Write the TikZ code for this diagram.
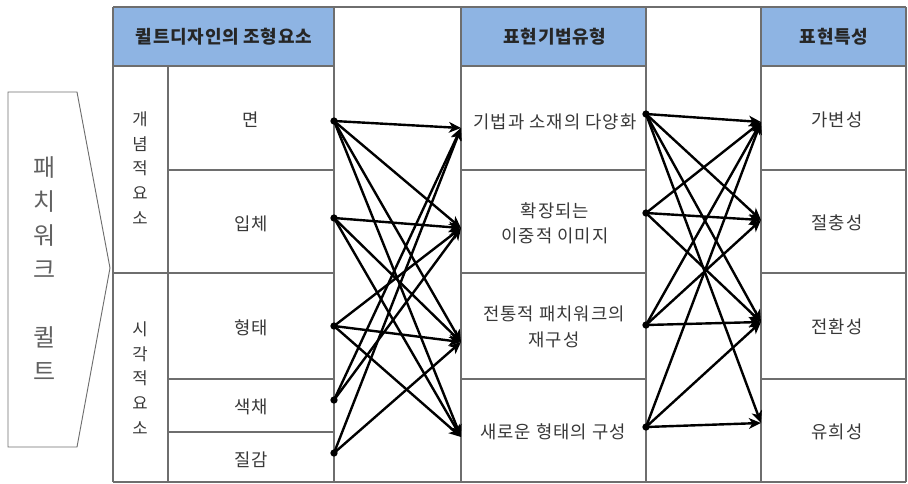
\documentclass[tikz,border=0pt]{standalone}
\usepackage{fontspec}
\newfontfamily\kr{Noto Sans CJK KR}
\newfontfamily\krw{Noto Sans CJK KR}[LetterSpace=6]
\newfontfamily\krh{Noto Sans CJK KR}[LetterSpace=4]
\usetikzlibrary{arrows.meta}
\definecolor{hdr}{HTML}{8EB4E3}
\definecolor{gridc}{HTML}{6E6E6E}
\begin{document}
\begin{tikzpicture}[x=0.75pt,y=-0.75pt,
  gridline/.style={draw=gridc, line width=0.8pt},
  hdrtext/.style={font=\krh\bfseries\fontsize{13.5}{15}\selectfont, text=black!85, inner sep=0pt},
  cell/.style={font=\krw\fontsize{13.3}{15}\selectfont, text=black!78, align=center, inner sep=0pt},
  vert/.style={font=\kr\fontsize{12.5}{18.5}\selectfont, text=black!78, align=center, inner sep=0pt},
  big/.style={font=\kr\fontsize{18}{25.5}\selectfont, text=black!62, align=center, inner sep=0pt},
  dot/.style={circle, fill=black, inner sep=0pt, minimum size=5.5pt},
  link/.style={line width=1.8pt, -{Stealth[length=9pt,width=8pt,inset=2.5pt]}},
]
\useasboundingbox (0,0) rectangle (908,483);
% header fills
\fill[hdr] (113,7) rectangle (334,66);
\fill[hdr] (461,7) rectangle (646,66);
\fill[hdr] (761,7) rectangle (906,66);
% grid
\draw[gridline] (113,7) -- (906,7);
\draw[gridline] (113,482) -- (906,482);
\foreach \x in {113,334,461,646,761,906} \draw[gridline] (\x,7) -- (\x,482);
\draw[gridline] (168,66) -- (168,482);
\foreach \a/\b in {113/334,461/646,761/906} {
  \draw[gridline] (\a,66) -- (\b,66);
  \draw[gridline] (\a,273) -- (\b,273);
}
\foreach \a/\b in {168/334,461/646,761/906} {
  \draw[gridline] (\a,170) -- (\b,170);
  \draw[gridline] (\a,379) -- (\b,379);
}
\draw[gridline] (168,432) -- (334,432);
% pentagon arrow
\draw[draw=gridc, line width=0.7pt] (8,92) -- (77,92) -- (110,268) -- (77,447) -- (8,447) -- cycle;
\node[big] (pq) at (45,269) {패\\치\\워\\크\\[25.5pt]퀼\\트};
% headers
\node[hdrtext] (h1) at (224,37) {퀼트디자인의 조형요소};
\node[hdrtext] (h2) at (555,37) {표현기법유형};
\node[hdrtext] (h3) at (834,37) {표현특성};
% left columns
\node[vert] (g1) at (140,168) {개\\념\\적\\요\\소};
\node[vert] (g2) at (140,378) {시\\각\\적\\요\\소};
\node[cell] (a1) at (251,120) {면};
\node[cell] (a2) at (251,224) {입체};
\node[cell] (a3) at (251,328) {형태};
\node[cell] (a4) at (251,407) {색채};
\node[cell] (a5) at (251,460) {질감};
% middle column
\node[cell] (b1) at (555,122) {기법과 소재의 다양화};
\node[cell] (b2) at (555,223) {확장되는\\[4pt]이중적 이미지};
\node[cell] (b3) at (554,327) {전통적 패치워크의\\[4pt]재구성};
\node[cell] (b4) at (553,432) {새로운 형태의 구성};
% right column
\node[cell] (c1) at (837,120) {가변성};
\node[cell] (c2) at (837,223) {절충성};
\node[cell] (c3) at (837,327) {전환성};
\node[cell] (c4) at (837,432) {유희성};
% dots and targets
\node[dot] (s1) at (334,121) {};
\node[dot] (s2) at (334,218) {};
\node[dot] (s3) at (334,326) {};
\node[dot] (s4) at (334,400) {};
\node[dot] (s5) at (334,453) {};
\coordinate (t1) at (461,128);
\coordinate (t2) at (461,228);
\coordinate (t3) at (461,342);
\coordinate (t4) at (461,437);
\node[dot] (r1) at (646,114) {};
\node[dot] (r2) at (646,213) {};
\node[dot] (r3) at (646,325) {};
\node[dot] (r4) at (646,427) {};
\coordinate (u1) at (761,122);
\coordinate (u2) at (761,220);
\coordinate (u3) at (761,322);
\coordinate (u4) at (761,423);
% links left
\foreach \s/\t in {s1/t1,s1/t2,s1/t3,s1/t4,s2/t2,s2/t3,s2/t4,s3/t2,s3/t3,s3/t4,s4/t1,s4/t2,s5/t1,s5/t3}
  \draw[link] (\s.center) -- (\t);
% links right
\foreach \s/\t in {r1/u1,r1/u2,r1/u3,r1/u4,r2/u1,r2/u2,r2/u3,r3/u1,r3/u2,r3/u3,r4/u1,r4/u3,r4/u4}
  \draw[link] (\s.center) -- (\t);
\end{tikzpicture}
\end{document}
